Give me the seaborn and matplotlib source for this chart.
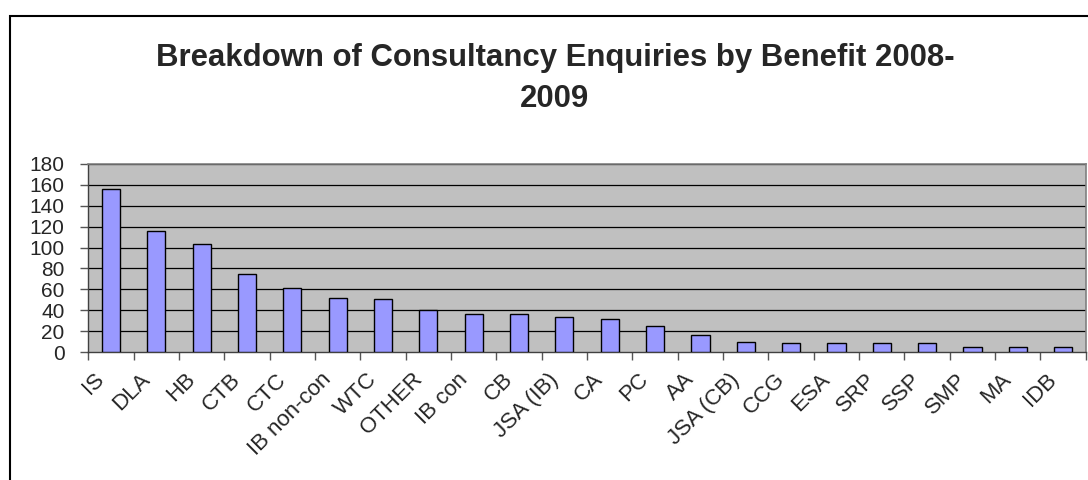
import matplotlib
matplotlib.use("Agg")
import matplotlib.pyplot as plt
import matplotlib.patches as mpatches
import matplotlib.transforms as mtransforms
import numpy as np
import pandas as pd
import seaborn as sns

# data
benefits = ["IS", "DLA", "HB", "CTB", "CTC", "IB non-con", "WTC", "OTHER", "IB con",
            "CB", "JSA (IB)", "CA", "PC", "AA", "JSA (CB)", "CCG", "ESA", "SRP",
            "SSP", "SMP", "MA", "IDB"]
enquiries = [156, 116, 103, 75, 61, 52, 51, 40, 37, 37, 34, 32, 25, 17, 10, 9, 9, 9, 9, 5, 5, 5]
y_ticks = list(range(0, 181, 20))
title = "Breakdown of Consultancy Enquiries by Benefit 2008-\n2009"

df = pd.DataFrame({"Benefit": benefits, "Enquiries": enquiries})

sns.set_style("white")
plt.rcParams["font.family"] = ["Liberation Sans", "DejaVu Sans"]

fig = plt.figure(figsize=(10.88, 4.8), dpi=100)
ax = fig.add_axes([0.0812, 0.266, 0.9168, 0.393])

# grey plot area with black gridlines, as in the Excel original
ax.set_facecolor("#C0C0C0")
for v in y_ticks[1:]:
    ax.axhline(v, color="black", lw=0.9, zorder=1)

sns.barplot(data=df, x="Benefit", y="Enquiries", order=benefits, color="#9999FF",
            edgecolor="black", linewidth=1.0, width=0.4, saturation=1, ax=ax, zorder=3)

ax.set_ylim(0, 180)
ax.set_xlim(-0.5, len(benefits) - 0.5)
ax.set_yticks(y_ticks)
ax.set_yticklabels([str(v) for v in y_ticks], fontsize=15)
ax.set_xlabel("")
ax.set_ylabel("")

# ticks between categories, labels at the category centres
ax.set_xticks(np.arange(len(benefits) + 1) - 0.5)
ax.set_xticklabels([])
ax.set_xticks(np.arange(len(benefits)), minor=True)
ax.set_xticklabels(benefits, minor=True, rotation=45, ha="right",
                   rotation_mode="anchor", fontsize=16)
ax.tick_params(axis="x", which="major", direction="out", length=6, color="#555555", width=1, bottom=True)
ax.tick_params(axis="x", which="minor", length=0, pad=12)
ax.tick_params(axis="y", direction="out", length=6, color="#555555", width=1, left=True, pad=11)

# nudge the rotated labels left so their top ends sit just left of the bar
shift = mtransforms.ScaledTranslation(-0.17, 0, fig.dpi_scale_trans)
for lbl in ax.get_xticklabels(minor=True):
    lbl.set_transform(lbl.get_transform() + shift)

for side in ["top", "right"]:
    ax.spines[side].set_color("#808080")
    ax.spines[side].set_linewidth(1.2)
for side in ["left", "bottom"]:
    ax.spines[side].set_color("#404040")
    ax.spines[side].set_linewidth(1.0)

fig.text(0.51, 0.836, title, ha="center", va="center", fontsize=22.4,
         fontweight="bold", linespacing=1.5)

# chart frame (only its left and top edges fall inside the image)
fig.patches.append(mpatches.Rectangle((0.0089, -0.2), 1.5, 1.167, transform=fig.transFigure,
                                      fill=False, edgecolor="black", linewidth=1.5))

fig.savefig("out.png", dpi=100)
